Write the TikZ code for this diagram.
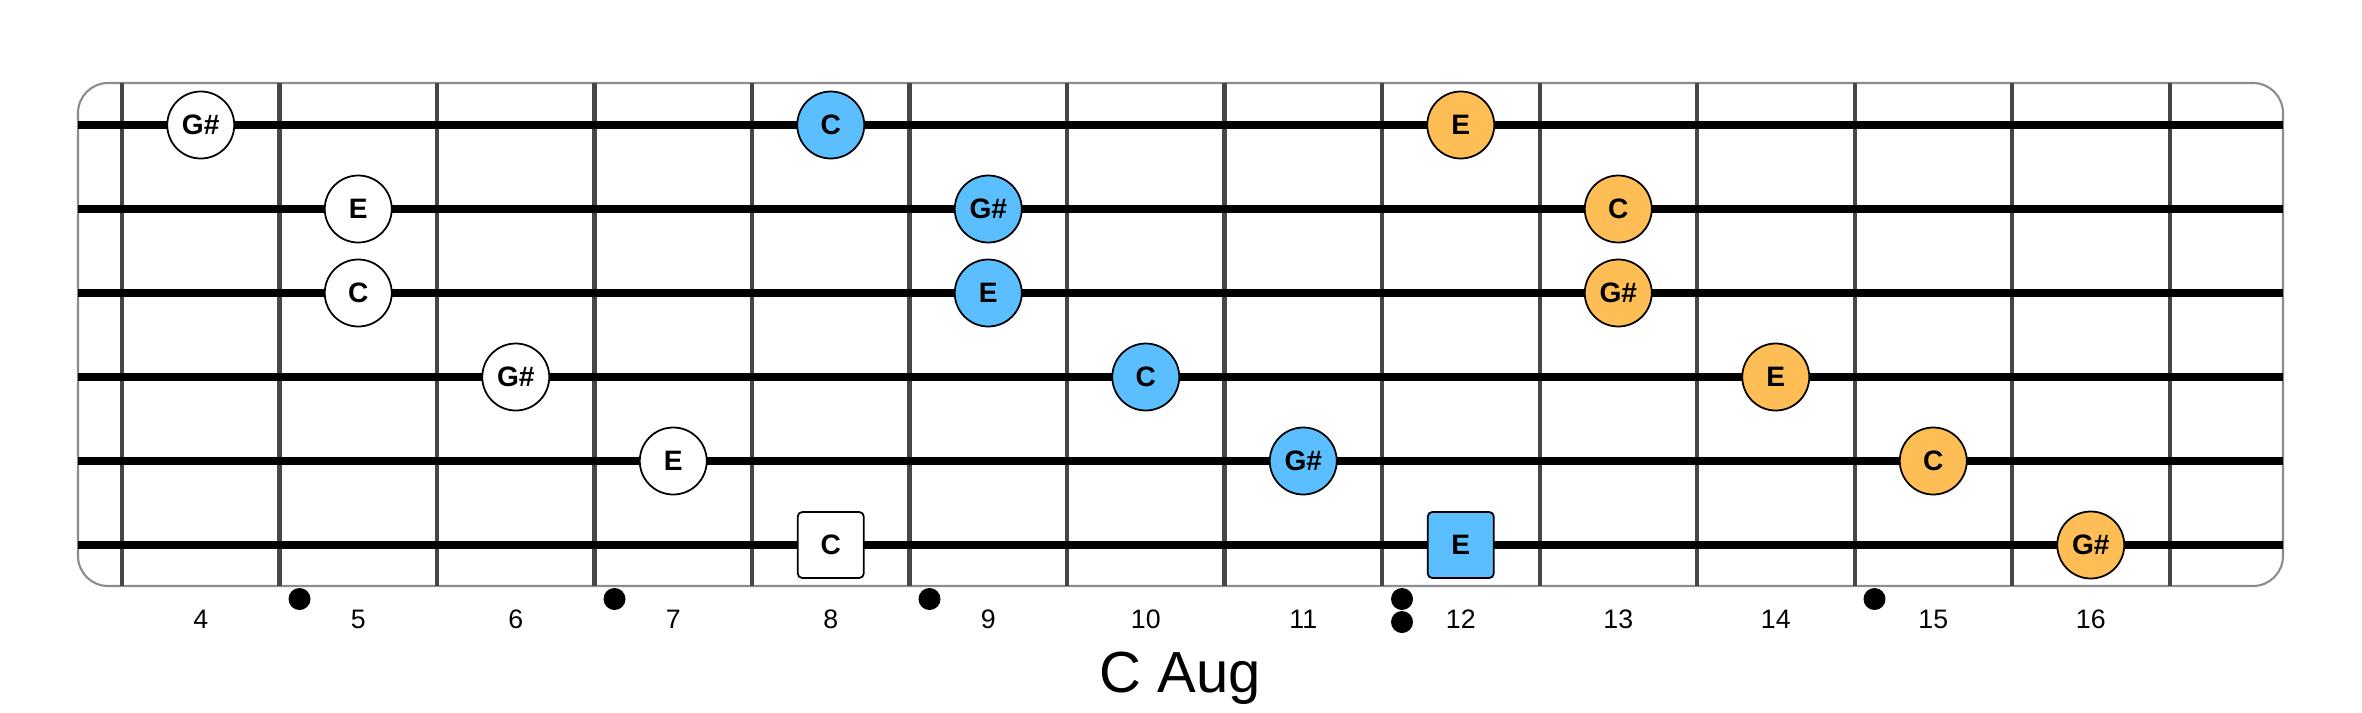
\documentclass[tikz,border=0pt]{standalone}
\usepackage{fontspec}
\setmainfont{Liberation Sans}
\definecolor{noteblue}{RGB}{90,190,255}
\definecolor{noteorange}{RGB}{255,190,85}
\definecolor{fretgray}{RGB}{70,70,70}
\definecolor{edgegray}{RGB}{140,140,140}

\begin{document}
\begin{tikzpicture}[x=0.1mm, y=-0.1mm,
  fret/.style={fretgray, line width=1.15pt},
  gtrstring/.style={black, line width=2pt},
  note/.style={circle, draw=black, line width=0.5pt, minimum size=6.7mm, inner sep=0pt, font=\bfseries\fontsize{8}{8}\selectfont},
  rootnote/.style={rectangle, rounded corners=0.45mm, draw=black, line width=0.5pt, minimum size=6.6mm, inner sep=0pt, font=\bfseries\fontsize{8}{8}\selectfont},
  inlay/.style={circle, fill=black, minimum size=2.2mm, inner sep=0pt},
  fretnum/.style={anchor=base, font=\fontsize{7.6}{8}\selectfont}]
\useasboundingbox (0,0) rectangle (2362,712);
% board, frets and strings
\draw[edgegray, line width=0.6pt, fill=white, rounded corners=3mm] (78,83) rectangle (2283,586);
\foreach \k in {0,...,13}{ \draw[fret] ({122+157.5*\k},83) -- ({122+157.5*\k},586); }
\foreach \s in {1,...,6}{ \draw[gtrstring] (78,{125+84*(\s-1)}) -- (2283,{125+84*(\s-1)}); }
% chord tones
\foreach \s/\f/\n/\c in {1/4/G\#/white, 1/8/C/noteblue, 1/12/E/noteorange,
  2/5/E/white, 2/9/G\#/noteblue, 2/13/C/noteorange,
  3/5/C/white, 3/9/E/noteblue, 3/13/G\#/noteorange,
  4/6/G\#/white, 4/10/C/noteblue, 4/14/E/noteorange,
  5/7/E/white, 5/11/G\#/noteblue, 5/15/C/noteorange,
  6/16/G\#/noteorange}{
  \node[note, fill=\c] (note-\s-\f) at ({200.75+157.5*(\f-4)},{125+84*(\s-1)}) {\n};
}
\foreach \f/\n/\c in {8/C/white, 12/E/noteblue}{
  \node[rootnote, fill=\c] (note-6-\f) at ({200.75+157.5*(\f-4)},545) {\n};
}
% fret numbers and inlays
\foreach \f in {4,...,16}{ \node[fretnum] (num\f) at ({200.75+157.5*(\f-4)},628) {\f}; }
\foreach \f in {5,7,9,15}{ \node[inlay] (dot\f) at ({142+157.5*(\f-4)},599) {}; }
\node[inlay] (dot12a) at (1402,599) {};
\node[inlay] (dot12b) at (1402,622) {};
\node[anchor=base, font=\fontsize{16.5}{18}\selectfont] (title) at (1180,692) {C Aug};
\end{tikzpicture}
\end{document}
